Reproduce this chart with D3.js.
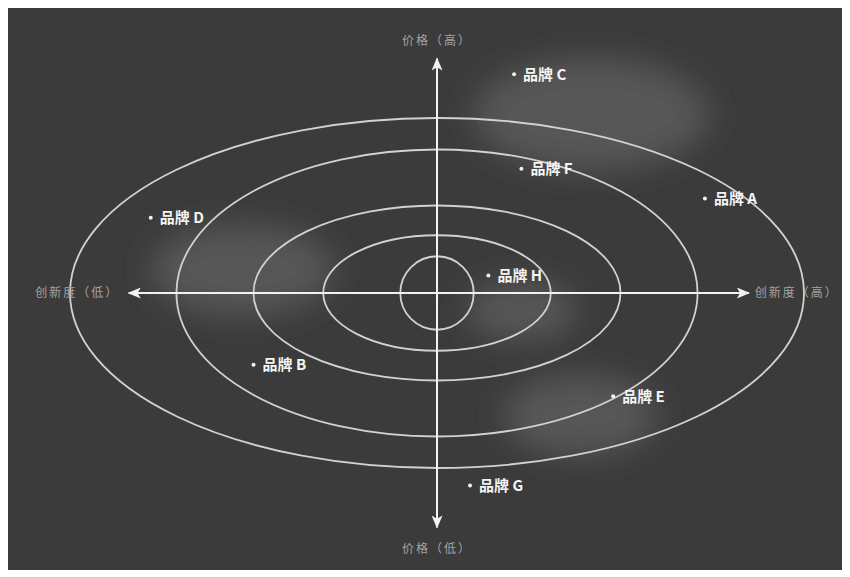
<!DOCTYPE html>
<html>
<head>
<meta charset="utf-8">
<script src="https://cdn.jsdelivr.net/npm/d3@7"></script>
<style>
  html, body { margin: 0; padding: 0; background: #ffffff; }
  svg { display: block; }
</style>
</head>
<body>
<div id="chart"></div>
<script>
// Positioning map data (units: -100..100 on both axes, outer ring = 100)
const brands = ['品牌 A', '品牌 B', '品牌 C', '品牌 D', '品牌 E', '品牌 F', '品牌 G', '品牌 H'];
const innovation = [73, -50, 21, -78, 48, 23, 9, 14];
const price = [54, -41, 125, 43, -59, 71, -110, 10];

// concentric rings (half-widths, half-heights)
const ringRx = [10, 31, 50, 71, 100];
const ringRy = [21, 33, 50, 82, 100];

// soft glow blobs behind the map
const blobX = [42, -53, 23, 39];
const blobY = [102, 13, -10, -70];
const blobRx = [32, 25, 15, 21];
const blobRy = [32, 26, 17, 23];

const axisLabels = ['价格（高）', '价格（低）', '创新度（低）', '创新度（高）'];

const width = 850, height = 577;

const svg = d3.select('#chart')
  .append('svg')
  .attr('width', width)
  .attr('height', height);

// Panel
svg.append('rect')
  .attr('x', 8).attr('y', 8)
  .attr('width', 834).attr('height', 562)
  .attr('fill', '#3b3b3b');

const x = d3.scaleLinear().domain([-100, 100]).range([70, 804]);
const y = d3.scaleLinear().domain([-100, 100]).range([468, 118]);

const defs = svg.append('defs');
defs.append('filter')
  .attr('id', 'blur')
  .attr('x', '-50%').attr('y', '-50%')
  .attr('width', '200%').attr('height', '200%')
  .append('feGaussianBlur')
  .attr('stdDeviation', 15);

defs.append('marker')
  .attr('id', 'arrow')
  .attr('viewBox', '0 0 12 10')
  .attr('refX', 11).attr('refY', 5)
  .attr('markerWidth', 14).attr('markerHeight', 11)
  .attr('markerUnits', 'userSpaceOnUse')
  .attr('orient', 'auto-start-reverse')
  .append('path')
  .attr('d', 'M0,0 L12,5 L0,10 L3,5 Z')
  .attr('fill', '#f2f2f2');

// Glow blobs
svg.append('g')
  .attr('filter', 'url(#blur)')
  .selectAll('ellipse')
  .data(blobX)
  .join('ellipse')
  .attr('cx', d => x(d))
  .attr('cy', (d, i) => y(blobY[i]))
  .attr('rx', (d, i) => x(blobRx[i]) - x(0))
  .attr('ry', (d, i) => y(0) - y(blobRy[i]))
  .attr('fill', '#575757');

// Rings
svg.append('g')
  .selectAll('ellipse')
  .data(ringRx)
  .join('ellipse')
  .attr('cx', x(0))
  .attr('cy', y(0))
  .attr('rx', d => x(d) - x(0))
  .attr('ry', (d, i) => y(0) - y(ringRy[i]))
  .attr('fill', 'none')
  .attr('stroke', '#d2d2d2')
  .attr('stroke-width', 1.8);

// Axes
svg.append('line')
  .attr('x1', x(-84)).attr('x2', x(85))
  .attr('y1', y(0)).attr('y2', y(0))
  .attr('stroke', '#f2f2f2').attr('stroke-width', 2)
  .attr('marker-start', 'url(#arrow)')
  .attr('marker-end', 'url(#arrow)');

svg.append('line')
  .attr('x1', x(0)).attr('x2', x(0))
  .attr('y1', y(134)).attr('y2', y(-134))
  .attr('stroke', '#f2f2f2').attr('stroke-width', 2)
  .attr('marker-start', 'url(#arrow)')
  .attr('marker-end', 'url(#arrow)');

// Axis labels
const labelPos = [[0, 144, 'middle'], [0, -146, 'middle'], [-98, 0, 'middle'], [98, 0, 'middle']];
svg.append('g')
  .selectAll('text')
  .data(axisLabels)
  .join('text')
  .attr('x', (d, i) => x(labelPos[i][0]))
  .attr('y', (d, i) => y(labelPos[i][1]))
  .attr('dy', '0.35em')
  .attr('text-anchor', (d, i) => labelPos[i][2])
  .attr('font-family', '"Noto Sans CJK SC", sans-serif')
  .attr('font-size', 12)
  .attr('letter-spacing', 2)
  .attr('fill', '#a4a4a4')
  .text(d => d);

// Brands
const pts = svg.append('g')
  .selectAll('g')
  .data(brands)
  .join('g')
  .attr('transform', (d, i) => `translate(${x(innovation[i])},${y(price[i])})`);

pts.append('circle')
  .attr('r', 2)
  .attr('fill', '#f2f2f2');

pts.append('text')
  .attr('x', 9)
  .attr('dy', '0.35em')
  .attr('font-family', '"Noto Sans CJK SC", sans-serif')
  .attr('font-weight', 'bold')
  .attr('font-size', 15)
  .attr('fill', '#f4f4f4')
  .text(d => d);
</script>
</body>
</html>
